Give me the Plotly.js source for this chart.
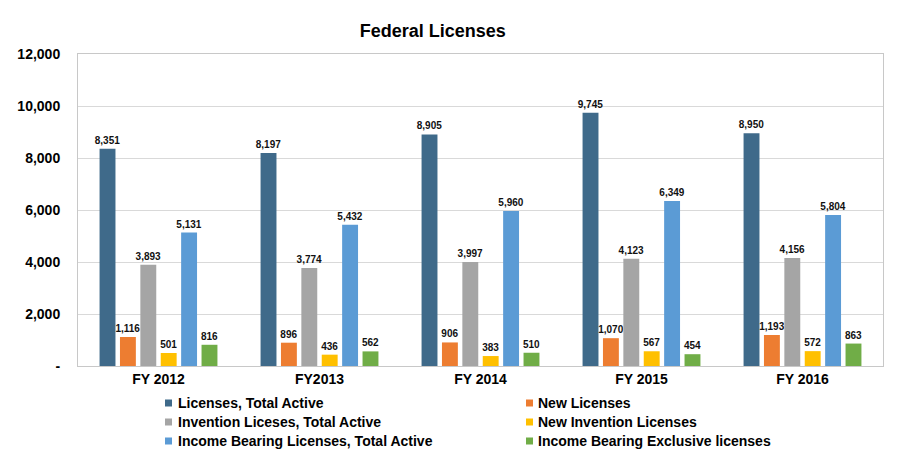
<!DOCTYPE html>
<html>
<head>
<meta charset="utf-8">
<script src="https://cdn.plot.ly/plotly-3.0.1.min.js"></script>
<style>html,body{margin:0;padding:0;background:#fff;}#chart{width:898px;height:465px;}</style>
</head>
<body>
<div id="chart"></div>
<script>
const categories = ["FY 2012", "FY2013", "FY 2014", "FY 2015", "FY 2016"];
const seriesNames = [
  "Licenses, Total Active",
  "New Licenses",
  "Invention Liceses, Total Active",
  "New Invention Licenses",
  "Income Bearing Licenses, Total Active",
  "Income Bearing Exclusive licenses"
];
const licensesTotalActive = [8351, 8197, 8905, 9745, 8950];
const newLicenses = [1116, 896, 906, 1070, 1193];
const inventionTotalActive = [3893, 3774, 3997, 4123, 4156];
const newInventionLicenses = [501, 436, 383, 567, 572];
const incomeBearingTotalActive = [5131, 5432, 5960, 6349, 5804];
const incomeBearingExclusive = [816, 562, 510, 454, 863];
const tickValues = [0, 2000, 4000, 6000, 8000, 10000, 12000];
const tickLabels = ["-", "2,000", "4,000", "6,000", "8,000", "10,000", "12,000"];

const seriesValues = [licensesTotalActive, newLicenses, inventionTotalActive, newInventionLicenses, incomeBearingTotalActive, incomeBearingExclusive];
const colors = ["#3F6A8A", "#ED7D31", "#A5A5A5", "#FFC000", "#5B9BD5", "#70AD47"];

const W = 898, H = 465;
const M = {l: 78, r: 15, t: 54, b: 99};
const PW = W - M.l - M.r, PH = H - M.t - M.b;
const px2x = p => (p - M.l) / PW;
const py2y = p => (H - M.b - p) / PH;

const traces = seriesValues.map((vals, i) => ({
  type: "bar",
  name: seriesNames[i],
  x: categories,
  y: vals,
  marker: {color: colors[i]},
  texttemplate: "%{y:,}",
  textposition: "outside",
  constraintext: "none",
  cliponaxis: false,
  textfont: {family: "Liberation Sans, Arial, sans-serif", size: 10, color: "#111", weight: "bold"},
  hoverinfo: "skip",
  showlegend: false
}));

// manual two-column legend (column by series index parity, row by index/2)
const legendColSquareX = [165, 526];
const legendColTextX = [176, 536];
const legendRowY = [403, 422, 441];
const shapes = [];
const annotations = [];
seriesNames.forEach((name, i) => {
  const col = i % 2, row = Math.floor(i / 2);
  const sx = legendColSquareX[col], sy = legendRowY[row];
  shapes.push({
    type: "rect", xref: "paper", yref: "paper",
    x0: px2x(sx), x1: px2x(sx + 7), y0: py2y(sy + 3.5), y1: py2y(sy - 3.5),
    fillcolor: colors[i], line: {width: 0}
  });
  annotations.push({
    xref: "paper", yref: "paper", x: px2x(legendColTextX[col]), y: py2y(sy),
    xanchor: "left", yanchor: "middle", showarrow: false,
    text: "<b>" + name + "</b>",
    font: {family: "Liberation Sans, Arial, sans-serif", size: 14, color: "#000"}
  });
});

const layout = {
  width: W, height: H,
  margin: M,
  paper_bgcolor: "#fff", plot_bgcolor: "#fff",
  font: {family: "Liberation Sans, Arial, sans-serif", color: "#000"},
  title: {text: "<b>Federal Licenses</b>", x: 0.482, xanchor: "center", y: 0.935, yanchor: "middle", font: {size: 18, color: "#000"}},
  barmode: "group",
  bargap: 0.24,
  bargroupgap: 0.22,
  xaxis: {
    type: "category",
    tickfont: {size: 14, color: "#000", weight: "bold"},
    showline: true, linecolor: "#C8C8C8", linewidth: 1, mirror: true,
    ticks: "", showgrid: false
  },
  yaxis: {
    range: [0, 12000],
    tickvals: tickValues, ticktext: tickLabels,
    tickfont: {size: 14, color: "#000", weight: "bold"},
    ticklabelstandoff: 14,
    gridcolor: "#D9D9D9", gridwidth: 1,
    showline: true, linecolor: "#C8C8C8", linewidth: 1, mirror: true,
    zeroline: false, ticks: "", automargin: false
  },
  showlegend: false,
  shapes: shapes,
  annotations: annotations
};

Plotly.newPlot("chart", traces, layout, {staticPlot: true, displayModeBar: false});
</script>
</body>
</html>
